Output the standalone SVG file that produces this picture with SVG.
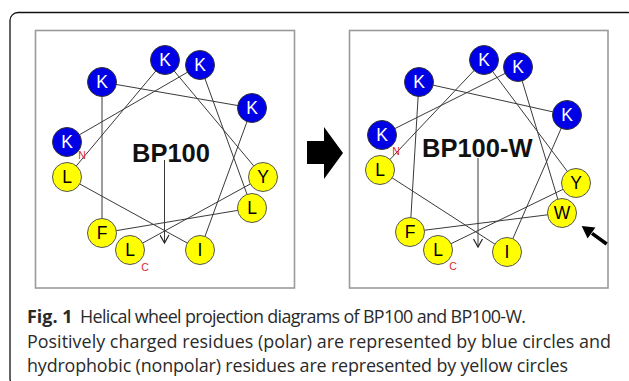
<svg xmlns="http://www.w3.org/2000/svg" width="629" height="381" viewBox="0 0 629 381">
<style>
.panel{fill:#fff;stroke:#9a9a9a;stroke-width:1.6}
.ln{stroke:#3a3a3a;stroke-width:1;fill:none}
.pos{fill:#0000e6;stroke:#333;stroke-width:1}
.hyd{fill:#ffff00;stroke:#555;stroke-width:1}
.lb{font-family:"Liberation Sans",Arial,sans-serif;font-size:17.5px;text-anchor:middle;dominant-baseline:central}
.wl{fill:#fff}
.bl{fill:#000}
.ttl{font-family:"Liberation Sans",Arial,sans-serif;font-size:25.5px;font-weight:bold;fill:#111}
.term{font-family:"Liberation Sans",Arial,sans-serif;font-size:10.5px;fill:#e02828;text-anchor:middle;dominant-baseline:central}
.cap{font-family:"Open Sans","Noto Sans",sans-serif;font-size:17.9px;fill:#2a2a2a}
</style>
<defs>
<marker id="open" viewBox="0 0 10 10" refX="9" refY="5" markerWidth="10" markerHeight="10" markerUnits="userSpaceOnUse" orient="auto">
<path d="M1,0.5 L9,5 L1,9.5" fill="none" stroke="#222" stroke-width="1.2"/>
</marker>
</defs>
<rect x="10" y="12.5" width="626" height="374" rx="8" fill="none" stroke="#111" stroke-width="1.3"/>
<rect class="panel" x="35.5" y="30.5" width="259" height="257.5"/>
<rect class="panel" x="349.5" y="30.5" width="258.5" height="257.5"/>
<polygon id="transition-arrow" points="307,141 324,141 324,127 343,153 324,179 324,164 307,164" fill="#000"/>
<g id="connectors">
<polyline class="ln" points="67,142 200,65 252,208 102,233 102,82 252,108 200,250 67,177 165,60 263,177 130,250"/>
<line class="ln" x1="164.5" y1="160" x2="164.5" y2="243" stroke="#222" marker-end="url(#open)"/>
<polyline class="ln" points="382,135 518,67 562,213 410,232 419,82 567,115 507,252 380,170 484,60 576,183 438,250"/>
<line class="ln" x1="478" y1="158" x2="478" y2="247" stroke="#222" marker-end="url(#open)"/>
<line x1="606.7" y1="244" x2="592" y2="233.4" stroke="#000" stroke-width="3.6"/>
<polygon points="581.7,226 595.4,227.5 587.6,238.6" fill="#000"/>
</g>
<g id="bp100">
<text class="ttl" x="132" y="162">BP100</text>
<g id="l-K1"><circle class="pos" cx="67" cy="142" r="14.5"/><text class="lb wl" x="67" y="142">K</text></g>
<g id="l-K2"><circle class="pos" cx="200" cy="65" r="14.5"/><text class="lb wl" x="200" y="65">K</text></g>
<g id="l-L3"><circle class="hyd" cx="252" cy="208" r="14.5"/><text class="lb bl" x="252" y="208">L</text></g>
<g id="l-F4"><circle class="hyd" cx="102" cy="233" r="14.5"/><text class="lb bl" x="102" y="233">F</text></g>
<g id="l-K5"><circle class="pos" cx="102" cy="82" r="14.5"/><text class="lb wl" x="102" y="82">K</text></g>
<g id="l-K6"><circle class="pos" cx="252" cy="108" r="14.5"/><text class="lb wl" x="252" y="108">K</text></g>
<g id="l-I7"><circle class="hyd" cx="200" cy="250" r="14.5"/><text class="lb bl" x="200" y="250">I</text></g>
<g id="l-L8"><circle class="hyd" cx="67" cy="177" r="14.5"/><text class="lb bl" x="67" y="177">L</text></g>
<g id="l-K9"><circle class="pos" cx="165" cy="60" r="14.5"/><text class="lb wl" x="165" y="60">K</text></g>
<g id="l-Y10"><circle class="hyd" cx="263" cy="177" r="14.5"/><text class="lb bl" x="263" y="177">Y</text></g>
<g id="l-L11"><circle class="hyd" cx="130" cy="250" r="14.5"/><text class="lb bl" x="130" y="250">L</text></g>
<text class="term" x="82" y="155">N</text>
<text class="term" x="145" y="267">C</text>
</g>
<g id="bp100w">
<text class="ttl" x="422" y="157">BP100-W</text>
<g id="r-K1"><circle class="pos" cx="382" cy="135" r="14.5"/><text class="lb wl" x="382" y="135">K</text></g>
<g id="r-K2"><circle class="pos" cx="518" cy="67" r="14.5"/><text class="lb wl" x="518" y="67">K</text></g>
<g id="r-W3"><circle class="hyd" cx="562" cy="213" r="14.5"/><text class="lb bl" x="562" y="213">W</text></g>
<g id="r-F4"><circle class="hyd" cx="410" cy="232" r="14.5"/><text class="lb bl" x="410" y="232">F</text></g>
<g id="r-K5"><circle class="pos" cx="419" cy="82" r="14.5"/><text class="lb wl" x="419" y="82">K</text></g>
<g id="r-K6"><circle class="pos" cx="567" cy="115" r="14.5"/><text class="lb wl" x="567" y="115">K</text></g>
<g id="r-I7"><circle class="hyd" cx="507" cy="252" r="14.5"/><text class="lb bl" x="507" y="252">I</text></g>
<g id="r-L8"><circle class="hyd" cx="380" cy="170" r="14.5"/><text class="lb bl" x="380" y="170">L</text></g>
<g id="r-K9"><circle class="pos" cx="484" cy="60" r="14.5"/><text class="lb wl" x="484" y="60">K</text></g>
<g id="r-Y10"><circle class="hyd" cx="576" cy="183" r="14.5"/><text class="lb bl" x="576" y="183">Y</text></g>
<g id="r-L11"><circle class="hyd" cx="438" cy="250" r="14.5"/><text class="lb bl" x="438" y="250">L</text></g>
<text class="term" x="396" y="151">N</text>
<text class="term" x="453" y="266">C</text>
</g>
<g id="caption">
<text class="cap" x="27" y="323"><tspan font-weight="bold">Fig. 1</tspan><tspan x="80" textLength="446" lengthAdjust="spacing">Helical wheel projection diagrams of BP100 and BP100-W.</tspan></text>
<text class="cap" x="27" y="347.5" textLength="584" lengthAdjust="spacing">Positively charged residues (polar) are represented by blue circles and</text>
<text class="cap" x="27" y="372" textLength="541" lengthAdjust="spacing">hydrophobic (nonpolar) residues are represented by yellow circles</text>
</g>
</svg>
